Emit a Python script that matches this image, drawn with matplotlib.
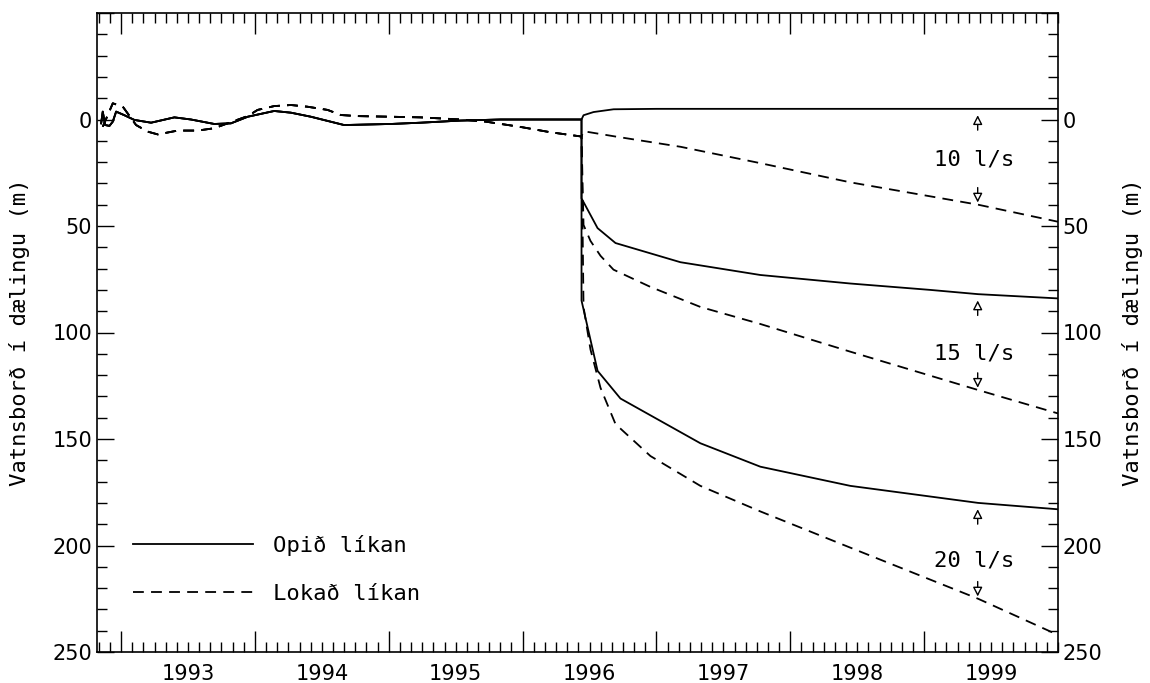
import numpy as np
import matplotlib.pyplot as plt

# Vatnsborð fyrir dælingu (ártal, m)
t_pre_opid = [1992.851, 1992.863, 1992.881, 1992.913, 1992.938, 1992.963, 1993.025,
              1993.099, 1993.224, 1993.398, 1993.522, 1993.696, 1993.821, 1993.946,
              1994.144, 1994.269, 1994.418, 1994.666, 1995.015, 1995.239, 1995.537,
              1995.836, 1996.440]
h_pre_opid = [1.8, -3.7, 2.6, 3.0, 1.0, -3.7, -2.0, 0.2, 1.5, -1.0, 0.0, 2.1, 1.8, -1.3,
              -4.0, -3.2, -1.3, 2.6, 2.1, 1.5, 0.5, 0.0, 0.0]

t_pre_lokad = [1992.863, 1992.938, 1993.013, 1993.112, 1993.199, 1993.274, 1993.423,
               1993.572, 1993.696, 1993.796, 1993.946, 1994.020, 1994.144, 1994.269,
               1994.393, 1994.543, 1994.642, 1994.766, 1995.015, 1995.239, 1995.537,
               1995.724, 1995.985, 1996.209, 1996.440]
h_pre_lokad = [3.4, -7.6, -6.0, 2.6, 5.7, 7.0, 5.2, 5.2, 4.1, 1.8, -1.6, -4.5, -6.3, -6.8,
               -6.0, -4.5, -2.1, -1.6, -1.3, -1.0, 0.0, 1.0, 3.5, 6.0, 8.0]

# Opið líkan eftir að dæling hefst
t_opid_10 = [1996.440, 1996.455, 1996.530, 1996.680, 1997.000, 2000.000]
h_opid_10 = [0.0, -2.0, -3.5, -4.8, -5.0, -5.0]
t_opid_15 = [1996.440, 1996.560, 1996.694, 1997.179, 1997.776, 1998.448, 1999.045, 1999.403, 2000.000]
h_opid_15 = [37, 51, 58, 67, 73, 77, 80, 82, 84]
t_opid_20 = [1996.440, 1996.560, 1996.731, 1997.328, 1997.776, 1998.448, 1999.045, 1999.403, 2000.000]
h_opid_20 = [85, 118, 131, 152, 163, 172, 177, 180, 183]

# Lokað líkan eftir að dæling hefst
t_lokad_10 = [1996.455, 1996.694, 1997.179, 1997.776, 1998.448, 1999.403, 2000.000]
h_lokad_10 = [5.5, 8.0, 12.8, 20.5, 29.5, 40.0, 48.0]
t_lokad_15 = [1996.455, 1996.507, 1996.582, 1996.679, 1996.955, 1997.328, 1997.776, 1998.448, 1999.403, 2000.000]
h_lokad_15 = [49.5, 57, 64, 70.5, 78.6, 88, 96, 109, 127, 138]
t_lokad_20 = [1996.455, 1996.507, 1996.582, 1996.694, 1996.955, 1997.328, 1997.776, 1998.448, 1999.403, 2000.000]
h_lokad_20 = [88, 108, 126, 143, 158, 172, 184, 201, 225, 242]

rennsli = ['10 l/s', '15 l/s', '20 l/s']
texti_h = [19, 110, 207]
t_or = 1999.40
ar = [1993, 1994, 1995, 1996, 1997, 1998, 1999]

mono = ['DejaVu Sans Mono']
fig = plt.figure(figsize=(11.5, 6.83), dpi=100)
ax = fig.add_axes([97 / 1150, 1 - 652 / 683, 961 / 1150, 639 / 683])

lw = 1.3
dash = (6, 4)
opid = [(t_opid_10, h_opid_10), (t_opid_15, h_opid_15), (t_opid_20, h_opid_20)]
lokad = [(t_lokad_10, h_lokad_10), (t_lokad_15, h_lokad_15), (t_lokad_20, h_lokad_20)]
for i, (t, h) in enumerate(lokad):
    ax.plot(t_pre_lokad + t, h_pre_lokad + h, color='black', lw=lw, dashes=dash,
            label='Lokað líkan' if i == 0 else None)
for i, (t, h) in enumerate(opid):
    ax.plot(t_pre_opid + t, h_pre_opid + h, color='black', lw=lw,
            label='Opið líkan' if i == 0 else None)

# örvar og texti
arrow = dict(arrowstyle='-|>,head_length=0.55,head_width=0.28', fc='white', ec='black',
             lw=1.0, shrinkA=0, shrinkB=0)
for (t1, h1), (t2, h2), lab, th in zip(opid, lokad, rennsli, texti_h):
    top = np.interp(t_or, t1, h1)
    bot = np.interp(t_or, t2, h2)
    ax.annotate('', xy=(t_or, top + 3), xytext=(t_or, top + 10), arrowprops=arrow)
    ax.annotate('', xy=(t_or, bot - 1), xytext=(t_or, bot - 8), arrowprops=arrow)
    ax.text(t_or - 0.03, th, lab, ha='center', va='center', fontsize=16, family=mono)

ax.set_xlim(1992.82, 2000.0)
ax.set_ylim(250, -50)

ax.set_xticks(ar)
ax.set_xticklabels([])
ax.set_xticks(np.arange(1992 + 10 / 12, 2000, 1 / 12), minor=True)
for y in ar:
    ax.annotate(str(y), xy=(y + 0.5, 0), xycoords=('data', 'axes fraction'),
                xytext=(0, -9), textcoords='offset points', ha='center', va='top',
                fontsize=15, family='DejaVu Sans')

ax.set_yticks(np.arange(-50, 251, 50))
ax.set_yticklabels([''] + [str(v) for v in range(0, 251, 50)])
ax.set_yticks(np.arange(-50, 251, 10), minor=True)
ax.tick_params(axis='both', which='both', direction='in', top=True, right=True,
               labelright=True, width=1.0, labelsize=15)
ax.tick_params(axis='x', which='major', length=15)
ax.tick_params(axis='x', which='minor', length=7)
ax.tick_params(axis='y', which='major', length=12)
ax.tick_params(axis='y', which='minor', length=7)
for s in ax.spines.values():
    s.set_linewidth(1.2)

ax.set_ylabel('Vatnsborð í dælingu (m)', fontsize=16, family=mono)
ax.yaxis.set_label_coords(-0.07, 0.5)
ax.text(1.078, 0.5, 'Vatnsborð í dælingu (m)', rotation=90, ha='center', va='center',
        fontsize=16, family=mono, transform=ax.transAxes)

h, l = ax.get_legend_handles_labels()
ax.legend(h[::-1], l[::-1], loc='upper left', bbox_to_anchor=(0.037, 0.183), frameon=False,
          borderaxespad=0, borderpad=0, handlelength=5.4, handletextpad=0.9,
          labelspacing=1.25, prop={'family': mono, 'size': 16})

fig.savefig('out.png', dpi=100)
